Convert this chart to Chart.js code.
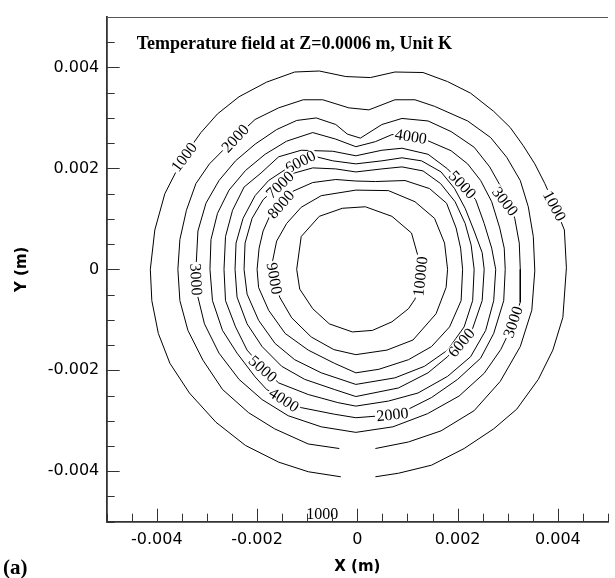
<!DOCTYPE html>
<html>
<head>
<meta charset="utf-8">
<script src="https://cdn.jsdelivr.net/npm/chart.js@4.4.1/dist/chart.umd.min.js"></script>
<style>
  html, body { margin: 0; padding: 0; background: #fff; overflow: hidden; }
  #wrap { width: 617px; height: 578px; }
</style>
</head>
<body>
<div id="wrap"><canvas id="contourChart"></canvas></div>
<script>
// Isotherms of the temperature field (K), outlines as [x, y] in metres
const levels = [1000, 2000, 3000, 4000, 5000, 6000, 7000, 8000, 9000, 10000];

// the two outer isotherms are open at the bottom (y < 0, x ~ 0)
const ring1000 = [
  [0.00036, -0.00411], [0.00082, -0.00404], [0.00148, -0.00388], [0.00213, -0.00355],
  [0.00272, -0.00316], [0.00318, -0.00277], [0.00361, -0.00218], [0.00390, -0.00160],
  [0.00410, -0.00095], [0.00417, 0.00003], [0.00413, 0.00078], [0.00394, 0.00125],
  [0.00374, 0.00170], [0.00354, 0.00209], [0.00331, 0.00245], [0.00305, 0.00281],
  [0.00272, 0.00313], [0.00226, 0.00349], [0.00180, 0.00372], [0.00131, 0.00390],
  [0.00075, 0.00391], [0.00026, 0.00380], [-0.00023, 0.00382], [-0.00076, 0.00393],
  [-0.00125, 0.00391], [-0.00181, 0.00371], [-0.00236, 0.00342], [-0.00279, 0.00308],
  [-0.00312, 0.00271], [-0.00346, 0.00224], [-0.00384, 0.00150], [-0.00404, 0.00078],
  [-0.00413, 0], [-0.00410, -0.00062], [-0.00397, -0.00127], [-0.00374, -0.00186],
  [-0.00335, -0.00245], [-0.00282, -0.00303], [-0.00223, -0.00349], [-0.00157, -0.00382],
  [-0.00098, -0.00401], [-0.00033, -0.00411]
];
const ring2000 = [
  [0.00036, -0.00355], [0.00102, -0.00342], [0.00167, -0.00320], [0.00233, -0.00280],
  [0.00285, -0.00222], [0.00325, -0.00153], [0.00348, -0.00081], [0.00354, -0.00003],
  [0.00351, 0.00065], [0.00341, 0.00124], [0.00325, 0.00176], [0.00298, 0.00222],
  [0.00266, 0.00261], [0.00220, 0.00294], [0.00154, 0.00323], [0.00115, 0.00336],
  [0.00075, 0.00336], [0.00023, 0.00316], [-0.00017, 0.00320], [-0.00069, 0.00336],
  [-0.00108, 0.00336], [-0.00157, 0.00320], [-0.00204, 0.00297], [-0.00244, 0.00260],
  [-0.00295, 0.00209], [-0.00322, 0.00170], [-0.00341, 0.00117], [-0.00354, 0.00059],
  [-0.00358, 0], [-0.00354, -0.00062], [-0.00338, -0.00121], [-0.00308, -0.00180],
  [-0.00269, -0.00238], [-0.00217, -0.00284], [-0.00165, -0.00316], [-0.00098, -0.00346],
  [-0.00036, -0.00355]
];
const ring3000 = [
  [0.00006, 0.00260], [0.00049, 0.00287], [0.00089, 0.00299], [0.00141, 0.00294],
  [0.00187, 0.00273], [0.00233, 0.00242], [0.00264, 0.00203], [0.00294, 0.00150],
  [0.00314, 0.00101], [0.00323, 0.00052], [0.00325, 0], [0.00325, -0.00065],
  [0.00308, -0.00114], [0.00286, -0.00159], [0.00253, -0.00206], [0.00203, -0.00251],
  [0.00140, -0.00286], [0.00071, -0.00312], [-0.00003, -0.00323], [-0.00072, -0.00312],
  [-0.00138, -0.00290], [-0.00190, -0.00258], [-0.00236, -0.00218], [-0.00276, -0.00166],
  [-0.00305, -0.00108], [-0.00318, -0.00055], [-0.00322, 0], [-0.00318, 0.00076],
  [-0.00302, 0.00131], [-0.00276, 0.00176], [-0.00243, 0.00215], [-0.00204, 0.00248],
  [-0.00161, 0.00277], [-0.00121, 0.00295], [-0.00082, 0.00300], [-0.00043, 0.00287],
  [-0.00020, 0.00268], [0.00006, 0.00260]
];
const ring4000 = [
  [-0.00003, 0.00243], [0.00036, 0.00253], [0.00069, 0.00267], [0.00107, 0.00266],
  [0.00138, 0.00256], [0.00187, 0.00235], [0.00220, 0.00209], [0.00246, 0.00176],
  [0.00268, 0.00134], [0.00284, 0.00082], [0.00293, 0.00042], [0.00295, 0],
  [0.00292, -0.00062], [0.00272, -0.00127], [0.00246, -0.00176], [0.00200, -0.00218],
  [0.00148, -0.00254], [0.00102, -0.00277], [0.00069, -0.00286], [0.00036, -0.00291],
  [-0.00003, -0.00294], [-0.00046, -0.00287], [-0.00112, -0.00274], [-0.00146, -0.00258],
  [-0.00181, -0.00238], [-0.00204, -0.00213], [-0.00240, -0.00166], [-0.00269, -0.00121],
  [-0.00289, -0.00062], [-0.00294, 0], [-0.00292, 0.00059], [-0.00279, 0.00111],
  [-0.00256, 0.00157], [-0.00223, 0.00196], [-0.00184, 0.00228], [-0.00141, 0.00254],
  [-0.00089, 0.00271], [-0.00043, 0.00258], [-0.00003, 0.00243]
];
const ring5000 = [
  [-0.00003, 0.00225], [0.00049, 0.00236], [0.00089, 0.00240], [0.00141, 0.00228],
  [0.00180, 0.00199], [0.00209, 0.00168], [0.00236, 0.00138], [0.00253, 0.00091],
  [0.00268, 0.00042], [0.00276, 0], [0.00272, -0.00062], [0.00256, -0.00121],
  [0.00226, -0.00173], [0.00180, -0.00212], [0.00121, -0.00245], [0.00062, -0.00261],
  [-0.00003, -0.00271], [-0.00039, -0.00264], [-0.00098, -0.00248], [-0.00157, -0.00225],
  [-0.00188, -0.00196], [-0.00220, -0.00160], [-0.00243, -0.00114], [-0.00263, -0.00062],
  [-0.00266, 0], [-0.00263, 0.00065], [-0.00249, 0.00117], [-0.00226, 0.00163],
  [-0.00192, 0.00191], [-0.00157, 0.00223], [-0.00112, 0.00236], [-0.00049, 0.00234],
  [-0.00003, 0.00225]
];
const ring6000 = [
  [-0.00003, 0.00209], [0.00049, 0.00215], [0.00089, 0.00221], [0.00128, 0.00215],
  [0.00167, 0.00193], [0.00194, 0.00160], [0.00215, 0.00121], [0.00233, 0.00076],
  [0.00249, 0.00033], [0.00253, 0], [0.00249, -0.00062], [0.00230, -0.00117],
  [0.00207, -0.00145], [0.00180, -0.00173], [0.00141, -0.00205], [0.00082, -0.00235],
  [-0.00003, -0.00252], [-0.00046, -0.00238], [-0.00105, -0.00218], [-0.00151, -0.00192],
  [-0.00190, -0.00153], [-0.00220, -0.00108], [-0.00240, -0.00055], [-0.00244, 0],
  [-0.00242, 0.00052], [-0.00228, 0.00101], [-0.00204, 0.00146], [-0.00177, 0.00176],
  [-0.00145, 0.00197], [-0.00114, 0.00214], [-0.00082, 0.00223], [-0.00049, 0.00215],
  [-0.00003, 0.00209]
];
const ring7000 = [
  [-0.00003, 0.00193], [0.00049, 0.00199], [0.00089, 0.00203], [0.00131, 0.00195],
  [0.00166, 0.00170], [0.00195, 0.00134], [0.00215, 0.00091], [0.00227, 0.00048],
  [0.00233, 0], [0.00230, -0.00062], [0.00213, -0.00114], [0.00180, -0.00160],
  [0.00134, -0.00192], [0.00075, -0.00215], [-0.00003, -0.00228], [-0.00072, -0.00205],
  [-0.00125, -0.00179], [-0.00164, -0.00147], [-0.00197, -0.00101], [-0.00220, -0.00049],
  [-0.00226, 0], [-0.00224, 0.00052], [-0.00210, 0.00101], [-0.00188, 0.00138],
  [-0.00155, 0.00168], [-0.00125, 0.00191], [-0.00089, 0.00201], [-0.00043, 0.00199],
  [-0.00003, 0.00193]
];
const ring8000 = [
  [-0.00003, 0.00175], [0.00036, 0.00174], [0.00095, 0.00176], [0.00144, 0.00160],
  [0.00178, 0.00131], [0.00197, 0.00082], [0.00206, 0.00042], [0.00210, 0],
  [0.00207, -0.00062], [0.00184, -0.00114], [0.00148, -0.00153], [0.00102, -0.00179],
  [0.00043, -0.00198], [-0.00003, -0.00205], [-0.00046, -0.00186], [-0.00098, -0.00160],
  [-0.00144, -0.00127], [-0.00177, -0.00081], [-0.00197, -0.00036], [-0.00200, 0],
  [-0.00196, 0.00042], [-0.00188, 0.00076], [-0.00175, 0.00105], [-0.00153, 0.00129],
  [-0.00128, 0.00155], [-0.00089, 0.00172], [-0.00043, 0.00178], [-0.00003, 0.00175]
];
const ring9000 = [
  [-0.00003, 0.00157], [0.00062, 0.00156], [0.00115, 0.00134], [0.00154, 0.00101],
  [0.00174, 0.00052], [0.00180, 0], [0.00177, -0.00036], [0.00157, -0.00088],
  [0.00111, -0.00140], [0.00059, -0.00160], [-0.00003, -0.00169], [-0.00047, -0.00159],
  [-0.00092, -0.00134], [-0.00131, -0.00096], [-0.00155, -0.00055], [-0.00165, -0.00018],
  [-0.00169, 0.00017], [-0.00161, 0.00056], [-0.00141, 0.00091], [-0.00112, 0.00123],
  [-0.00072, 0.00146], [-0.00003, 0.00157]
];
const ring10000 = [
  [0.00016, 0.00124], [0.00069, 0.00105], [0.00108, 0.00072], [0.00121, 0.00026],
  [0.00125, -0.00014], [0.00115, -0.00059], [0.00102, -0.00078], [0.00069, -0.00104],
  [0.00030, -0.00121], [-0.00010, -0.00124], [-0.00056, -0.00108], [-0.00089, -0.00078],
  [-0.00115, -0.00039], [-0.00121, 0], [-0.00112, 0.00065], [-0.00076, 0.00105],
  [-0.00030, 0.00121], [0.00016, 0.00124]
];

// in-line contour labels: text, anchor (m) and text angle (deg)
const labelText  = ['1000', '2000', '1000', '3000', '5000', '4000', '6000', '7000', '8000',
                    '3000', '9000', '10000', '3000', '6000', '5000', '4000', '2000', '1000'];
const labelX     = [-0.00346, -0.00244, 0.00394, 0.00295, 0.00210, 0.00107, -0.00114, -0.00155, -0.00153,
                    -0.00321, -0.00165, 0.00125, 0.00310, 0.00207, -0.00188, -0.00146, 0.00070, -0.00070];
const labelY     = [0.00223, 0.00260, 0.00126, 0.00135, 0.00168, 0.00264, 0.00214, 0.00168, 0.00129,
                    -0.00020, -0.00018, -0.00014, -0.00104, -0.00145, -0.00197, -0.00258, -0.00287, -0.00484];
const labelAngle = [-53, -47, 62, 52, 47, 9, -27, -44, -49,
                    87, 80, -84, -71, -50, 41, 33, -6, 0];

const rings = [ring1000, ring2000, ring3000, ring4000, ring5000,
               ring6000, ring7000, ring8000, ring9000, ring10000];

const datasets = rings.map((pts, i) => ({
  label: levels[i] + ' K',
  data: pts.map(p => ({ x: p[0], y: p[1] })),
  showLine: true,
  borderColor: '#000',
  borderWidth: 1,
  pointRadius: 0,
  fill: false,
  tension: 0
}));

// only every 0.002 m gets a number, the 0.0005 steps stay as minor marks
function tickLabel(v) {
  const k = Math.round(v / 0.0005);
  return k % 4 === 0 ? String(Number((k * 0.0005).toFixed(3))) : '';
}

const contourLabels = {
  id: 'contourLabels',
  afterDatasetsDraw(chart) {
    const { ctx, scales: { x, y } } = chart;
    ctx.save();
    ctx.font = '16px "Liberation Serif", "Times New Roman", serif';
    ctx.textAlign = 'center';
    ctx.textBaseline = 'alphabetic';
    labelText.forEach((txt, i) => {
      const px = x.getPixelForValue(labelX[i]);
      const py = y.getPixelForValue(labelY[i]);
      const w = ctx.measureText(txt).width;
      ctx.save();
      ctx.translate(px, py);
      ctx.rotate(labelAngle[i] * Math.PI / 180);
      ctx.fillStyle = '#fff';
      ctx.fillRect(-w / 2 - 1.5, -6, w + 3, 12);
      ctx.fillStyle = '#000';
      ctx.fillText(txt, 0, 5.4);
      ctx.restore();
    });
    ctx.restore();
  }
};

// inward tick marks, top frame line and the text inside / beside the frame
const frame = {
  id: 'frame',
  afterDraw(chart) {
    const { ctx, chartArea: area, scales: { x, y } } = chart;
    ctx.save();
    ctx.strokeStyle = '#333';
    ctx.lineWidth = 1;
    ctx.beginPath();
    x.ticks.forEach(t => {
      const px = Math.round(x.getPixelForValue(t.value)) + 0.5;
      const len = t.label !== '' ? 13 : 8;
      ctx.moveTo(px, area.bottom);
      ctx.lineTo(px, area.bottom - len);
    });
    y.ticks.forEach(t => {
      const py = Math.round(y.getPixelForValue(t.value)) + 0.5;
      const len = t.label !== '' ? 13 : 8;
      ctx.moveTo(area.left, py);
      ctx.lineTo(area.left + len, py);
    });
    ctx.stroke();

    ctx.strokeStyle = '#555';
    ctx.beginPath();
    ctx.moveTo(area.left, Math.round(area.top) + 0.5);
    ctx.lineTo(area.right, Math.round(area.top) + 0.5);
    ctx.stroke();

    ctx.fillStyle = '#000';
    ctx.textAlign = 'left';
    ctx.textBaseline = 'alphabetic';
    ctx.font = 'bold 18px "Liberation Serif", "Times New Roman", serif';
    ctx.fillText('Temperature field at Z=0.0006 m, Unit K', area.left + 30, area.top + 31.6);
    ctx.font = 'bold 21px "Liberation Serif", "Times New Roman", serif';
    ctx.fillText('(a)', 3, 574);
    ctx.restore();
  }
};

new Chart(document.getElementById('contourChart'), {
  type: 'scatter',
  data: { datasets },
  options: {
    responsive: true,
    maintainAspectRatio: false,
    animation: false,
    devicePixelRatio: 1,
    layout: { padding: { top: 11.7, right: 1.3, bottom: 0, left: 0 } },
    plugins: {
      legend: { display: false },
      tooltip: { enabled: false }
    },
    scales: {
      x: {
        type: 'linear',
        min: -0.005,
        max: 0.005,
        grid: { display: false, drawTicks: false },
        border: { display: true, color: '#333', width: 1.8 },
        ticks: {
          stepSize: 0.0005,
          autoSkip: false,
          maxRotation: 0,
          padding: 9,
          color: '#000',
          font: { family: 'DejaVu Sans', size: 16 },
          callback: tickLabel
        },
        title: {
          display: true,
          text: 'X (m)',
          color: '#000',
          font: { family: 'DejaVu Sans', size: 15, weight: 'bold' },
          padding: { top: 0, bottom: 2.3 }
        },
        afterFit: s => { s.height = 56.3; }
      },
      y: {
        type: 'linear',
        min: -0.005,
        max: 0.005,
        grid: { display: false, drawTicks: false },
        border: { display: true, color: '#333', width: 1.8 },
        ticks: {
          stepSize: 0.0005,
          autoSkip: false,
          padding: 7.4,
          color: '#000',
          font: { family: 'DejaVu Sans', size: 16 },
          callback: tickLabel
        },
        title: {
          display: true,
          text: 'Y (m)',
          color: '#000',
          font: { family: 'DejaVu Sans', size: 15, weight: 'bold' },
          padding: { top: 12.7, bottom: 0 }
        },
        afterFit: s => { s.width = 106.7; }
      }
    }
  },
  plugins: [contourLabels, frame]
});
</script>
</body>
</html>
